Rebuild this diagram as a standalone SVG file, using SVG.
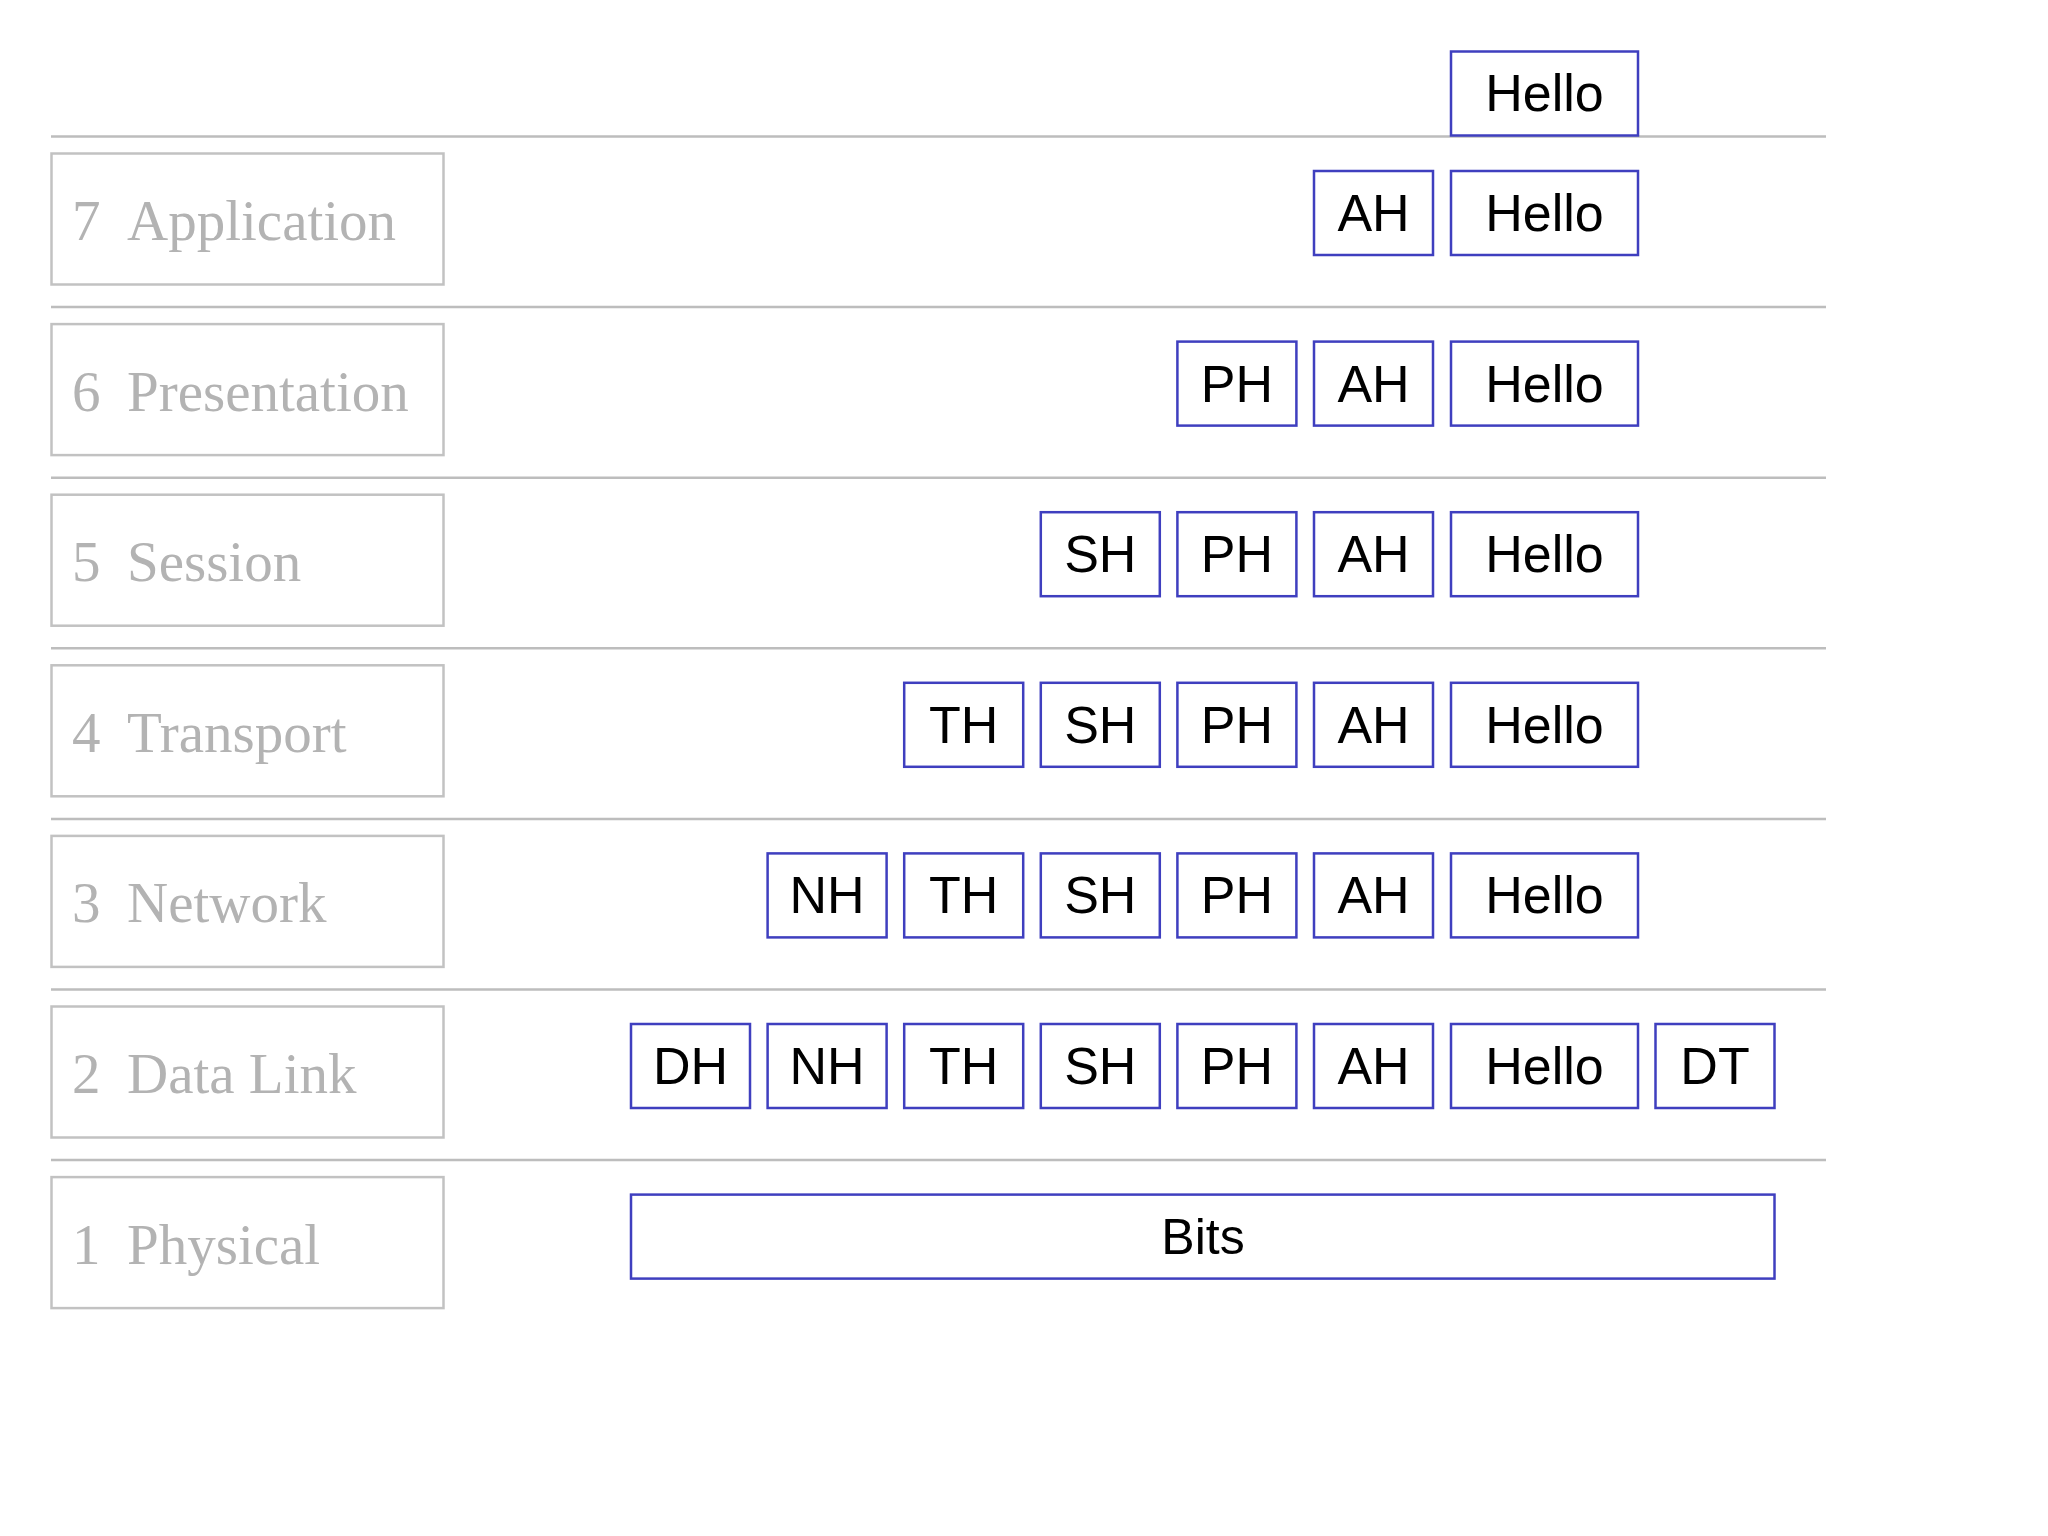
<svg xmlns="http://www.w3.org/2000/svg" width="2048" height="1536" viewBox="0 0 2048 1536">
<style>
.sep{stroke:#bdbdbd;stroke-width:2.5;fill:none}
.layer rect{fill:#ffffff;stroke:#c2c2c2;stroke-width:2.5}
.layer text{font-family:"Liberation Serif","Times New Roman",serif;font-size:57px;fill:#b3b3b3}
.pdu rect{fill:#ffffff;stroke:#3f3fbf;stroke-width:2.5}
.pdu text{font-family:"Liberation Sans",Arial,sans-serif;font-size:52px;fill:#000000;text-anchor:middle}
</style>
<rect width="2048" height="1536" fill="#ffffff"/>
<g id="separators">
<line class="sep" x1="51" y1="136.5" x2="1826" y2="136.5"/>
<line class="sep" x1="51" y1="307.1" x2="1826" y2="307.1"/>
<line class="sep" x1="51" y1="477.7" x2="1826" y2="477.7"/>
<line class="sep" x1="51" y1="648.3" x2="1826" y2="648.3"/>
<line class="sep" x1="51" y1="818.9" x2="1826" y2="818.9"/>
<line class="sep" x1="51" y1="989.5" x2="1826" y2="989.5"/>
<line class="sep" x1="51" y1="1160.1" x2="1826" y2="1160.1"/>
</g>
<g id="layers">
<g id="layer7" class="layer"><rect x="51.5" y="153.5" width="392" height="131"/><text x="72" y="240">7<tspan x="127">Application</tspan></text></g>
<g id="layer6" class="layer"><rect x="51.5" y="324.1" width="392" height="131"/><text x="72" y="410.6">6<tspan x="127">Presentation</tspan></text></g>
<g id="layer5" class="layer"><rect x="51.5" y="494.7" width="392" height="131"/><text x="72" y="581.2">5<tspan x="127">Session</tspan></text></g>
<g id="layer4" class="layer"><rect x="51.5" y="665.3" width="392" height="131"/><text x="72" y="751.8">4<tspan x="127">Transport</tspan></text></g>
<g id="layer3" class="layer"><rect x="51.5" y="835.9" width="392" height="131"/><text x="72" y="922.4">3<tspan x="127">Network</tspan></text></g>
<g id="layer2" class="layer"><rect x="51.5" y="1006.5" width="392" height="131"/><text x="72" y="1093">2<tspan x="127">Data Link</tspan></text></g>
<g id="layer1" class="layer"><rect x="51.5" y="1177.1" width="392" height="131"/><text x="72" y="1263.6">1<tspan x="127">Physical</tspan></text></g>
</g>
<g id="data">
<g id="row0" class="pdu">
<rect x="1451" y="51.5" width="187" height="84"/><text x="1544.5" y="111">Hello</text>
</g>
<g id="row7" class="pdu">
<rect x="1314" y="171" width="119" height="84"/><text x="1373.5" y="231">AH</text>
<rect x="1451" y="171" width="187" height="84"/><text x="1544.5" y="231">Hello</text>
</g>
<g id="row6" class="pdu">
<rect x="1177.4" y="341.6" width="119" height="84"/><text x="1236.9" y="401.6">PH</text>
<rect x="1314" y="341.6" width="119" height="84"/><text x="1373.5" y="401.6">AH</text>
<rect x="1451" y="341.6" width="187" height="84"/><text x="1544.5" y="401.6">Hello</text>
</g>
<g id="row5" class="pdu">
<rect x="1040.8" y="512.2" width="119" height="84"/><text x="1100.3" y="572.2">SH</text>
<rect x="1177.4" y="512.2" width="119" height="84"/><text x="1236.9" y="572.2">PH</text>
<rect x="1314" y="512.2" width="119" height="84"/><text x="1373.5" y="572.2">AH</text>
<rect x="1451" y="512.2" width="187" height="84"/><text x="1544.5" y="572.2">Hello</text>
</g>
<g id="row4" class="pdu">
<rect x="904.2" y="682.8" width="119" height="84"/><text x="963.7" y="742.8">TH</text>
<rect x="1040.8" y="682.8" width="119" height="84"/><text x="1100.3" y="742.8">SH</text>
<rect x="1177.4" y="682.8" width="119" height="84"/><text x="1236.9" y="742.8">PH</text>
<rect x="1314" y="682.8" width="119" height="84"/><text x="1373.5" y="742.8">AH</text>
<rect x="1451" y="682.8" width="187" height="84"/><text x="1544.5" y="742.8">Hello</text>
</g>
<g id="row3" class="pdu">
<rect x="767.6" y="853.4" width="119" height="84"/><text x="827.1" y="913.4">NH</text>
<rect x="904.2" y="853.4" width="119" height="84"/><text x="963.7" y="913.4">TH</text>
<rect x="1040.8" y="853.4" width="119" height="84"/><text x="1100.3" y="913.4">SH</text>
<rect x="1177.4" y="853.4" width="119" height="84"/><text x="1236.9" y="913.4">PH</text>
<rect x="1314" y="853.4" width="119" height="84"/><text x="1373.5" y="913.4">AH</text>
<rect x="1451" y="853.4" width="187" height="84"/><text x="1544.5" y="913.4">Hello</text>
</g>
<g id="row2" class="pdu">
<rect x="631" y="1024" width="119" height="84"/><text x="690.5" y="1084">DH</text>
<rect x="767.6" y="1024" width="119" height="84"/><text x="827.1" y="1084">NH</text>
<rect x="904.2" y="1024" width="119" height="84"/><text x="963.7" y="1084">TH</text>
<rect x="1040.8" y="1024" width="119" height="84"/><text x="1100.3" y="1084">SH</text>
<rect x="1177.4" y="1024" width="119" height="84"/><text x="1236.9" y="1084">PH</text>
<rect x="1314" y="1024" width="119" height="84"/><text x="1373.5" y="1084">AH</text>
<rect x="1451" y="1024" width="187" height="84"/><text x="1544.5" y="1084">Hello</text>
<rect x="1655.5" y="1024" width="119" height="84"/><text x="1715" y="1084">DT</text>
</g>
<g id="row1" class="pdu">
<rect x="631" y="1194.6" width="1143.5" height="84"/><text x="1203" y="1254" style="font-size:50px">Bits</text>
</g>
</g>
</svg>
